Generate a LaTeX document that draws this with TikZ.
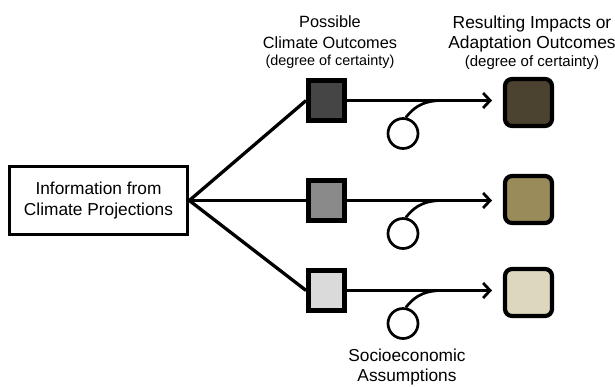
\documentclass[tikz,border=0pt]{standalone}
\usepackage{fontspec}
\setmainfont{Liberation Sans}
\usetikzlibrary{arrows.meta}
\begin{document}
\begin{tikzpicture}[x=1pt,y=-1pt,
  lhead/.style={font=\fontsize{16.3}{21}\selectfont, align=center, inner sep=0pt, anchor=north},
  rhead/.style={font=\fontsize{17.4}{20.5}\selectfont, align=center, inner sep=0pt, anchor=north},
  body/.style={font=\fontsize{17.3}{19.5}\selectfont, align=center, inner sep=0pt},
  infobox/.style={draw, line width=3.6pt, minimum width=178pt, minimum height=68pt, inner sep=0pt, font=\fontsize{17.3}{21}\selectfont, align=center},
  cbox/.style={draw, line width=4.8pt, minimum width=36pt, minimum height=40pt, inner sep=0pt},
  rbox/.style={draw, line width=4.2pt, rounded corners=7pt, minimum width=47pt, minimum height=47pt, inner sep=0pt},
  conn/.style={line width=3.3pt},
  arr/.style={line width=3.3pt, -{Straight Barb[length=7pt,width=15pt,line width=2.8pt]}},
  ring/.style={draw, circle, line width=2.7pt, minimum size=30pt, inner sep=0pt},
  loopline/.style={line width=2.7pt}
]
\definecolor{cA}{HTML}{454545}
\definecolor{cB}{HTML}{8A8A8A}
\definecolor{cC}{HTML}{DADADA}
\definecolor{rA}{HTML}{4B4330}
\definecolor{rB}{HTML}{998B5A}
\definecolor{rC}{HTML}{DDD7BE}
\useasboundingbox (0,0) rectangle (615,386);

% headers
\node[lhead] (h1) at (330,15.5) {Possible\\Climate Outcomes\\[-4pt]{\fontsize{14.4}{17}\selectfont (degree of certainty)}};
\node[rhead] (h2) at (532,15.5) {Resulting Impacts or\\Adaptation Outcomes\\[-3pt]{\fontsize{15}{17}\selectfont (degree of certainty)}};

% left box
\node[infobox] (info) at (98.5,200.5) {Information from\\Climate Projections};

% climate outcome squares
\node[cbox, fill=cA] (s1) at (326.5,100.5) {};
\node[cbox, fill=cB] (s2) at (326.5,200.5) {};
\node[cbox, fill=cC] (s3) at (326.5,290.5) {};

% result squares
\node[rbox, fill=rA] (r1) at (528.5,102.5) {};
\node[rbox, fill=rB] (r2) at (528.5,199.5) {};
\node[rbox, fill=rC] (r3) at (528.5,292.5) {};

% fan
\draw[conn] (info.east) -- (s1.west);
\draw[conn] (info.east) -- (s2.west);
\draw[conn] (info.east) -- (s3.west);

% arrows
\coordinate (t1) at (492,100.5);
\coordinate (t2) at (492,200.5);
\coordinate (t3) at (492,290.5);
\draw[arr] (s1.east) -- (t1);
\draw[arr] (s2.east) -- (t2);
\draw[arr] (s3.east) -- (t3);

% socioeconomic loops
\node[ring] (c1) at (403,133.5) {};
\node[ring] (c2) at (403,233.5) {};
\node[ring] (c3) at (403,323.5) {};
\coordinate (m1) at (442,100.5);
\coordinate (m2) at (442,200.5);
\coordinate (m3) at (442,290.5);
\draw[loopline] (c1.80) .. controls (412,110) and (420,100.5) .. (m1);
\draw[loopline] (c2.80) .. controls (412,210) and (420,200.5) .. (m2);
\draw[loopline] (c3.80) .. controls (412,300) and (420,290.5) .. (m3);

% bottom label
\node[body, anchor=north] (soc) at (407,349) {Socioeconomic\\Assumptions};
\end{tikzpicture}
\end{document}
